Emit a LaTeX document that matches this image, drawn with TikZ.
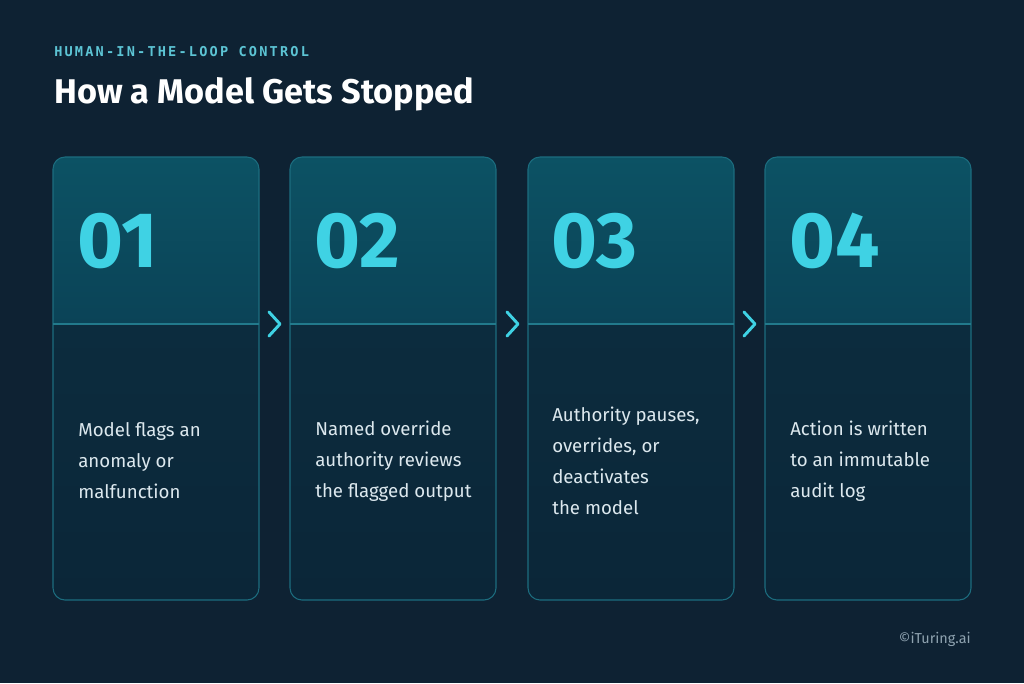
\documentclass[tikz,border=0pt]{standalone}
\usepackage{fontspec}
\setmainfont{Fira Sans}
\newfontfamily\monof{DejaVu Sans Mono Bold}[LetterSpace=16]
\definecolor{bg}{HTML}{0E2233}
\definecolor{topA}{HTML}{0C5264}
\definecolor{topB}{HTML}{0B4357}
\definecolor{botA}{HTML}{0C2C3E}
\definecolor{botB}{HTML}{0B2638}
\definecolor{edge}{HTML}{1C6D7F}
\definecolor{divl}{HTML}{227A8C}
\definecolor{cyanx}{HTML}{3FD2E4}
\definecolor{kick}{HTML}{5CC4D4}
\definecolor{bodyc}{HTML}{DCE8EE}
\definecolor{copyc}{HTML}{8FA3B0}
\tikzset{
  num/.style={anchor=base west, inner sep=0pt, text=cyanx, font=\fontsize{59}{62}\selectfont\bfseries},
  bodytxt/.style={anchor=west, inner sep=0pt, text=bodyc, align=left, font=\fontsize{14}{23.25}\selectfont},
  chev/.style={draw=cyanx, line width=2.2pt, line cap=round, line join=round},
  cardedge/.style={draw=edge, line width=0.8pt, rounded corners=9pt},
}
\begin{document}
\begin{tikzpicture}[x=0.75pt,y=-0.75pt]
\fill[bg] (0,0) rectangle (1024,683);
\useasboundingbox (0,0) rectangle (1024,683);
\node[anchor=base west, inner sep=0pt, text=kick, font=\fontsize{10.2}{11}\monof] (kicker) at (54,56) {HUMAN-IN-THE-LOOP CONTROL};
\node[anchor=base west, inner sep=0pt, text=white, font=\fontsize{25.7}{30}\selectfont\bfseries] (title) at (54,103) {How a Model Gets Stopped};
\foreach \i/\x in {1/53,2/290,3/528,4/765}{
  \begin{scope}
    \clip[rounded corners=9pt] (\x,157) rectangle ++(206,443);
    \shade[top color=botA, bottom color=botB] (\x,324) rectangle ++(206,276);
    \shade[top color=topA, bottom color=topB] (\x,157) rectangle ++(206,167);
  \end{scope}
  \draw[cardedge] (\x,157) rectangle ++(206,443);
  \draw[divl, line width=0.8pt] (\x,324) -- ++(206,0);
}
\node[num] (n1) at (77,267) {01};
\node[num] (n2) at (314,267) {02};
\node[num] (n3) at (551,267) {03};
\node[num] (n4) at (789,267) {04};
\node[bodytxt] (t1) at (78,461) {Model flags an\\anomaly or\\malfunction};
\node[bodytxt] (t2) at (315,461) {Named override\\authority reviews\\the flagged output};
\node[bodytxt] (t3) at (552,461) {Authority pauses,\\overrides, or\\deactivates\\the model};
\node[bodytxt] (t4) at (790,461) {Action is written\\to an immutable\\audit log};
\foreach \cx in {274,512,749}{
  \draw[chev] (\cx-5,312) -- (\cx+6,324) -- (\cx-5,336);
}
\node[anchor=base east, inner sep=0pt, text=copyc, font=\fontsize{10.8}{12}\selectfont] (copy) at (971,643) {©iTuring.ai};
\end{tikzpicture}
\end{document}
